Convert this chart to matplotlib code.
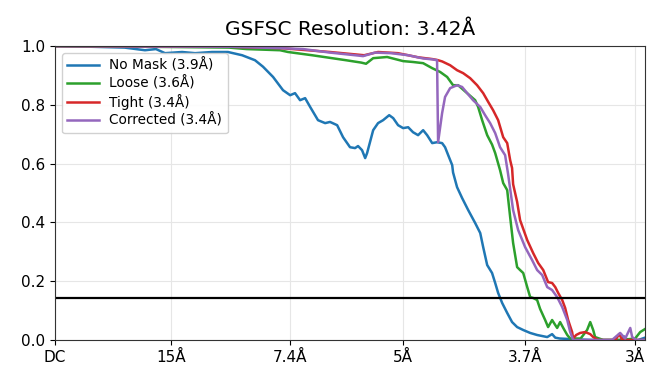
import matplotlib
matplotlib.use("Agg")
import matplotlib.pyplot as plt

# ---- data (spatial frequency in 1/Å, FSC value) ----
nomask_freq = [0.0, 0.02, 0.04, 0.0517, 0.058, 0.0632, 0.073, 0.0805, 0.0902, 0.0994, 0.1075, 0.1149,
               0.1195, 0.1253, 0.131, 0.1351, 0.1379, 0.1408, 0.1437, 0.1466, 0.1511, 0.1552, 0.158,
               0.1621, 0.1655, 0.1695, 0.1724, 0.1741, 0.1764, 0.1782, 0.1793, 0.1828, 0.1856, 0.1885,
               0.192, 0.1943, 0.1971, 0.2, 0.2029, 0.2057, 0.2086, 0.2115, 0.2138, 0.2167, 0.2195,
               0.2224, 0.2241, 0.2259, 0.2282, 0.2287, 0.231, 0.2339, 0.2374, 0.2414, 0.2443, 0.246,
               0.2483, 0.2511, 0.2529, 0.2546, 0.2569, 0.2598, 0.2626, 0.2655, 0.269, 0.273, 0.277,
               0.2828, 0.2856, 0.2874, 0.29, 0.30, 0.31, 0.3247, 0.3270, 0.3290, 0.335, 0.34]
nomask_fsc = [1.0, 0.998, 0.995, 0.986, 0.99, 0.976, 0.98, 0.976, 0.98, 0.98, 0.969, 0.952,
              0.93, 0.895, 0.85, 0.833, 0.84, 0.816, 0.823, 0.793, 0.748, 0.738, 0.742,
              0.731, 0.69, 0.656, 0.653, 0.66, 0.646, 0.619, 0.636, 0.714, 0.738, 0.748,
              0.765, 0.755, 0.731, 0.721, 0.724, 0.707, 0.697, 0.714, 0.697, 0.67, 0.673,
              0.67, 0.656, 0.629, 0.595, 0.57, 0.52, 0.483, 0.442, 0.398, 0.364, 0.316,
              0.255, 0.228, 0.194, 0.16, 0.126, 0.092, 0.061, 0.044, 0.034, 0.024, 0.017,
              0.01, 0.02, 0.008, 0.005, 0.002, 0.0, 0.0, 0.012, 0.0, 0.0, 0.01]

loose_freq = [0.0, 0.05, 0.1, 0.11, 0.1293, 0.1339, 0.1477, 0.1672, 0.1759, 0.1787, 0.1828, 0.1908,
              0.2, 0.2057, 0.2115, 0.2167, 0.2213, 0.2253, 0.2287, 0.2316, 0.2356, 0.2414, 0.2431,
              0.2454, 0.2483, 0.2511, 0.2529, 0.2557, 0.2575, 0.2598, 0.2615, 0.2632, 0.2655, 0.2672,
              0.269, 0.2713, 0.273, 0.2747, 0.277, 0.2787, 0.2816, 0.2833, 0.2856, 0.2874, 0.2885,
              0.2902, 0.292, 0.2943, 0.296, 0.302, 0.3057, 0.3075, 0.3092, 0.3103, 0.315, 0.325,
              0.3333, 0.3362, 0.34]
loose_fsc = [1.0, 0.998, 0.995, 0.99, 0.986, 0.98, 0.969, 0.952, 0.944, 0.94, 0.959, 0.963,
             0.949, 0.946, 0.942, 0.925, 0.912, 0.895, 0.867, 0.867, 0.846, 0.816, 0.793,
             0.748, 0.697, 0.665, 0.636, 0.578, 0.534, 0.51, 0.418, 0.33, 0.248, 0.238,
             0.228, 0.18, 0.146, 0.143, 0.136, 0.106, 0.068, 0.044, 0.068, 0.051, 0.041,
             0.061, 0.041, 0.017, 0.005, 0.005, 0.034, 0.061, 0.034, 0.01, 0.0, 0.0,
             0.005, 0.027, 0.041]

tight_freq = [0.0, 0.1, 0.13, 0.158, 0.1776, 0.1856, 0.197, 0.2029, 0.2086, 0.2167, 0.2195, 0.2224,
              0.227, 0.231, 0.2345, 0.2385, 0.2425, 0.246, 0.2489, 0.2517, 0.2546, 0.2575, 0.2598,
              0.2615, 0.2626, 0.2632, 0.2655, 0.2672, 0.2713, 0.2747, 0.2776, 0.2805, 0.2833, 0.2856,
              0.2874, 0.2891, 0.2914, 0.2931, 0.2948, 0.2971, 0.2977, 0.2994, 0.3017, 0.3046, 0.3075,
              0.3092, 0.312, 0.322, 0.3241, 0.326, 0.34]
tight_fsc = [1.0, 0.998, 0.993, 0.98, 0.969, 0.98, 0.976, 0.969, 0.962, 0.956, 0.953, 0.948,
             0.935, 0.918, 0.908, 0.891, 0.867, 0.84, 0.81, 0.782, 0.748, 0.69, 0.67,
             0.612, 0.585, 0.53, 0.47, 0.408, 0.34, 0.296, 0.262, 0.238, 0.197, 0.194,
             0.18, 0.16, 0.136, 0.109, 0.068, 0.027, 0.005, 0.017, 0.024, 0.027, 0.02,
             0.01, 0.0, 0.0, 0.02, 0.0, 0.0]

corr_freq = [0.0, 0.1, 0.13, 0.1425, 0.158, 0.1724, 0.177, 0.1839, 0.1931, 0.2029, 0.2115, 0.2167,
             0.2195, 0.2201, 0.2224, 0.2241, 0.227, 0.231, 0.2339, 0.2368, 0.2402, 0.2443, 0.2471,
             0.25, 0.2529, 0.2557, 0.2586, 0.2603, 0.2632, 0.2661, 0.2701, 0.2741, 0.277, 0.2799,
             0.2828, 0.2856, 0.2885, 0.2914, 0.2943, 0.296, 0.2977, 0.32, 0.3247, 0.3276, 0.3305,
             0.3316, 0.334, 0.34]
corr_fsc = [1.0, 0.998, 0.993, 0.99, 0.978, 0.969, 0.966, 0.978, 0.976, 0.969, 0.958, 0.955,
            0.952, 0.673, 0.772, 0.827, 0.857, 0.867, 0.861, 0.84, 0.816, 0.793, 0.765,
            0.738, 0.704, 0.656, 0.629, 0.565, 0.442, 0.374, 0.316, 0.272, 0.238, 0.221,
            0.18, 0.17, 0.146, 0.112, 0.068, 0.027, 0.0, 0.0, 0.024, 0.005, 0.041,
            0.01, 0.0, 0.0]

series_labels = ["No Mask (3.9Å)", "Loose (3.6Å)", "Tight (3.4Å)", "Corrected (3.4Å)"]
tick_res = [None, 15, 7.4, 5, 3.7, 3]
tick_labels = ["DC", "15Å", "7.4Å", "5Å", "3.7Å", "3Å"]
threshold = 0.143
title = "GSFSC Resolution: 3.42Å"

fig = plt.figure(figsize=(6.47, 3.69), dpi=100)
ax = fig.add_axes([0.085, 0.0786, 0.912, 0.7964])

colors = ["#1f77b4", "#2ca02c", "#d62728", "#9467bd"]
series = [(nomask_freq, nomask_fsc), (loose_freq, loose_fsc), (tight_freq, tight_fsc), (corr_freq, corr_fsc)]
for (fx, fy), lab, c in zip(series, series_labels, colors):
    ax.plot(fx, fy, color=c, lw=1.8, label=lab)

ax.axhline(threshold, color="black", lw=1.6)

ticks = [0.0 if r is None else 1.0 / r for r in tick_res]
ax.set_xticks(ticks)
ax.set_xticklabels(tick_labels, fontsize=11)
ax.set_yticks([0.0, 0.2, 0.4, 0.6, 0.8, 1.0])
ax.set_yticklabels(["0.0", "0.2", "0.4", "0.6", "0.8", "1.0"], fontsize=11)
ax.set_xlim(0, 0.339)
ax.set_ylim(0, 1.0)
ax.grid(True, color="#e6e6e6", lw=0.8)
ax.set_axisbelow(True)
for s in ax.spines.values():
    s.set_color("#333333")
ax.set_title(title, fontsize=14.5, pad=8)
leg = ax.legend(loc="upper left", fontsize=9.8, handlelength=2.3, labelspacing=0.25,
                borderaxespad=0.5, framealpha=0.9)

fig.savefig("out.png", dpi=100)
